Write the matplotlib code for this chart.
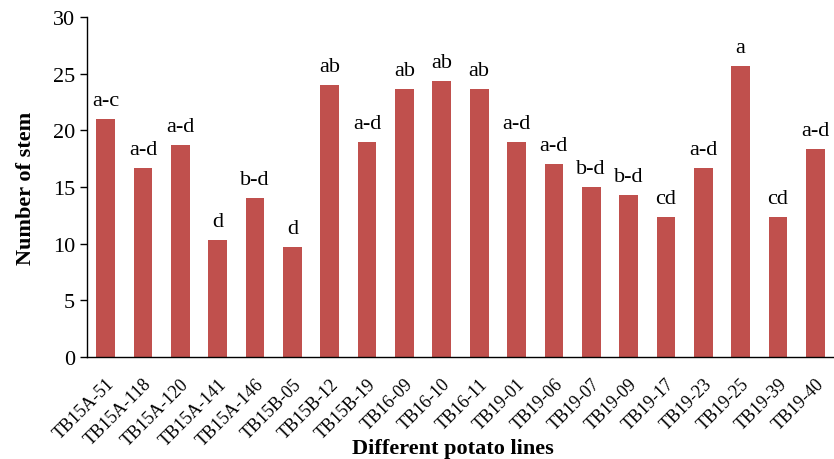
import matplotlib.pyplot as plt
import numpy as np

plt.rcParams['font.family'] = ['Liberation Serif', 'DejaVu Serif']

lines = ['TB15A-51', 'TB15A-118', 'TB15A-120', 'TB15A-141', 'TB15A-146',
         'TB15B-05', 'TB15B-12', 'TB15B-19', 'TB16-09', 'TB16-10',
         'TB16-11', 'TB19-01', 'TB19-06', 'TB19-07', 'TB19-09',
         'TB19-17', 'TB19-23', 'TB19-25', 'TB19-39', 'TB19-40']
stems = [21.0, 16.67, 18.67, 10.33, 14.0, 9.67, 24.0, 19.0, 23.67, 24.33,
         23.67, 19.0, 17.0, 15.0, 14.33, 12.33, 16.67, 25.67, 12.33, 18.33]
letters = ['a-c', 'a-d', 'a-d', 'd', 'b-d', 'd', 'ab', 'a-d', 'ab', 'ab',
           'ab', 'a-d', 'a-d', 'b-d', 'b-d', 'cd', 'a-d', 'a', 'cd', 'a-d']

fig = plt.figure(figsize=(8.34, 4.6), dpi=100)
ax = fig.add_axes([87 / 834, 102 / 460, 1 - 87 / 834, 340 / 460])

x = np.arange(len(lines))
ax.bar(x, stems, width=0.5, color='#C0504D')

for xi, v, lab in zip(x, stems, letters):
    ax.text(xi, v + 0.8, lab, ha='center', va='bottom', fontsize=16)

ax.set_xlim(-0.5, len(lines) - 0.5)
ax.set_ylim(0, 30)
ax.set_yticks(range(0, 31, 5))
ax.tick_params(axis='y', labelsize=16, direction='out', length=5, width=1)
ax.set_xticks(x)
ax.set_xticklabels(lines, rotation=45, ha='right', rotation_mode='anchor', fontsize=13)
ax.tick_params(axis='x', length=0, pad=13)

for s in ['top', 'right']:
    ax.spines[s].set_visible(False)
ax.spines['left'].set_linewidth(1)
ax.spines['bottom'].set_linewidth(1)

ax.set_ylabel('Number of stem', fontsize=16, fontweight='bold', labelpad=12)
fig.text(0.543, 6 / 460, 'Different potato lines', ha='center', va='baseline',
         fontsize=16, fontweight='bold')

fig.savefig('out.png', dpi=100)
